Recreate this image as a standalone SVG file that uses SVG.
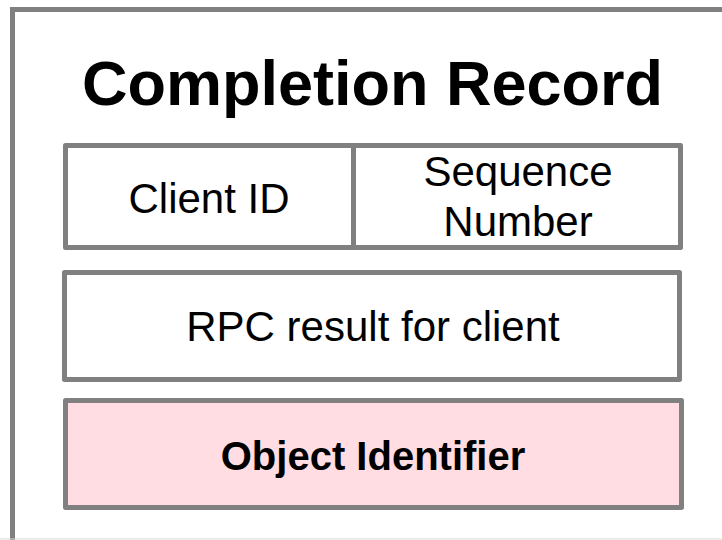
<svg xmlns="http://www.w3.org/2000/svg" width="722" height="540" viewBox="0 0 722 540">
  <style>
    .frame { fill: #ffffff; stroke: #808080; stroke-width: 5; }
    .cell { fill: #ffffff; stroke: #808080; stroke-width: 5; stroke-linejoin: round; }
    .key { fill: #ffdde2; }
    .label { font-family: "Liberation Sans", Arial, sans-serif; font-size: 42px; fill: #000000; text-anchor: middle; }
    .bold { font-weight: bold; }
    .title { font-size: 63px; }
    .key-label { font-size: 40px; }
  </style>
  <rect x="0" y="0" width="722" height="540" fill="#ffffff"/>
  <!-- outer record frame (runs past the right and bottom edges) -->
  <g id="record">
    <rect class="frame" x="12.5" y="9.5" width="730" height="560"/>
    <line x1="0" y1="539" x2="722" y2="539" stroke="#d8d8d8" stroke-width="1"/>
    <text class="label bold title" x="372.5" y="105">Completion Record</text>
  </g>
  <g id="client-id">
    <rect class="cell" x="65.5" y="145.5" width="288" height="102"/>
    <text class="label" x="209" y="213">Client ID</text>
  </g>
  <g id="sequence-number">
    <rect class="cell" x="353.5" y="145.5" width="327" height="102"/>
    <text class="label" x="518" y="186">Sequence</text>
    <text class="label" x="518" y="236">Number</text>
  </g>
  <g id="rpc-result">
    <rect class="cell" x="64.5" y="272.5" width="615" height="107"/>
    <text class="label" x="373" y="341">RPC result for client</text>
  </g>
  <g id="object-identifier">
    <rect class="cell key" x="65.5" y="400.5" width="616" height="107"/>
    <text class="label bold key-label" x="373" y="470">Object Identifier</text>
  </g>
  <g id="connectors"/>
</svg>
